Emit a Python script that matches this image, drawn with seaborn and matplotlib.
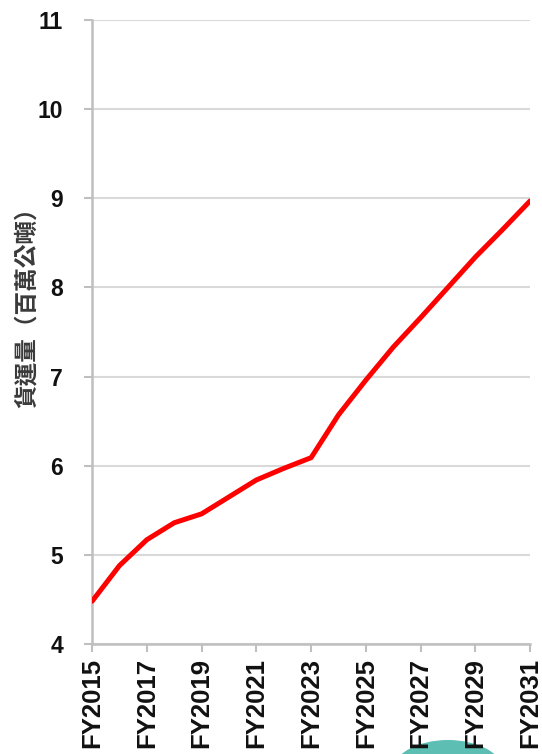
import matplotlib
matplotlib.use("Agg")
import matplotlib.pyplot as plt
import seaborn as sns
import pandas as pd
from matplotlib.patches import Ellipse

# ---- data ----
years = ["FY2015", "FY2016", "FY2017", "FY2018", "FY2019", "FY2020", "FY2021", "FY2022",
         "FY2023", "FY2024", "FY2025", "FY2026", "FY2027", "FY2028", "FY2029", "FY2030", "FY2031"]
volume = [4.48, 4.88, 5.17, 5.36, 5.46, 5.65, 5.84, 5.97,
          6.09, 6.57, 6.96, 7.33, 7.66, 8.00, 8.34, 8.65, 8.97]
y_ticks = [4, 5, 6, 7, 8, 9, 10, 11]
y_label = "貨運量（百萬公噸）"

df = pd.DataFrame({"idx": range(len(years)), "year": years, "volume": volume})

sns.set_theme(style="white")
plt.rcParams["font.family"] = ["Liberation Sans", "DejaVu Sans"]

fig = plt.figure(figsize=(5.42, 7.54), dpi=100)
ax = fig.add_axes([0.170, 0.1459, 0.808, 0.8276])

sns.lineplot(data=df, x="idx", y="volume", ax=ax, color="#ff0000", linewidth=3.6, zorder=3)

ax.set_xlim(0, len(years) - 1)
ax.set_ylim(4, 11)
ax.set_yticks(y_ticks)
ax.set_yticklabels([str(t) for t in y_ticks], fontsize=16.5, fontweight="bold", color="#111111")
xt = list(range(0, len(years), 2))
ax.set_xticks(xt)
ax.set_xticklabels([years[i] for i in xt], rotation=90, fontsize=18.5, fontweight="bold", color="#111111")

ax.grid(axis="y", color="#d9d9d9", linewidth=1.5, zorder=0)
ax.grid(axis="x", visible=False)
for s in ["top", "right"]:
    ax.spines[s].set_visible(False)
for s in ["left", "bottom"]:
    ax.spines[s].set_color("#bfbfbf")
    ax.spines[s].set_linewidth(1.8)
ax.tick_params(axis="both", which="both", direction="out", length=6, width=1.5, color="#bfbfbf",
               left=True, bottom=True)
ax.tick_params(axis="y", pad=15)
ax.tick_params(axis="x", pad=4)

ax.set_xlabel("")
ax.set_ylabel(y_label, family=["Noto Sans CJK TC", "DejaVu Sans"], fontsize=17, fontweight="bold",
              color="#3a3a3a")
ax.yaxis.set_label_coords(-0.123, 0.548)

blob = Ellipse((448 / 542, 1 - 772 / 754), 112 / 542, 64 / 754, transform=fig.transFigure,
               facecolor="#5dbfb4", edgecolor="none", zorder=-1)
fig.patches.append(blob)

fig.savefig("out.png", dpi=100, facecolor="white")
